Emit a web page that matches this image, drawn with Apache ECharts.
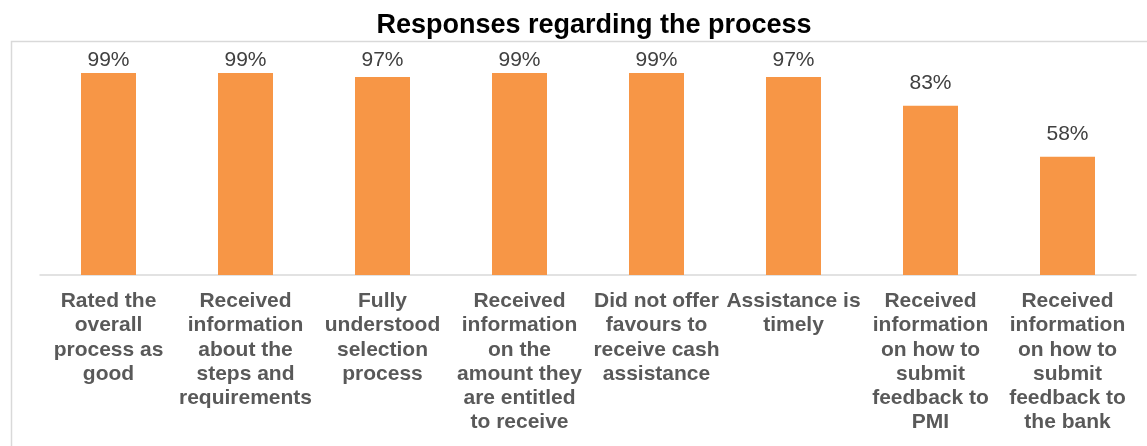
<!DOCTYPE html>
<html>
<head>
<meta charset="utf-8">
<script src="https://cdn.jsdelivr.net/npm/echarts@6/dist/echarts.min.js"></script>
<style>
    html, body { margin: 0; padding: 0; background: #fff; }
    #chart { width: 1147px; height: 446px; }
</style>
</head>
<body>
<div id="chart"></div>
<script>
const titleText = 'Responses regarding the process'
const categories = [
    'Rated the\noverall\nprocess as\ngood',
    'Received\ninformation\nabout the\nsteps and\nrequirements',
    'Fully\nunderstood\nselection\nprocess',
    'Received\ninformation\non the\namount they\nare entitled\nto receive',
    'Did not offer\nfavours to\nreceive cash\nassistance',
    'Assistance is\ntimely',
    'Received\ninformation\non how to\nsubmit\nfeedback to\nPMI',
    'Received\ninformation\non how to\nsubmit\nfeedback to\nthe bank'
]
const values = [99, 99, 97, 99, 99, 97, 83, 58]

const chartObj = echarts.init(document.getElementById('chart'))

// plot area geometry (px)
const gridTop = 71
const gridBottom = 171
const plotHeight = 446 - gridTop - gridBottom
const yMax = 100

// labels near the frame get squeezed down like in the original, the rest float higher
const barData = values.map(v => {
    const barTop = gridTop + plotHeight * (1 - v / yMax)
    return {
        value: v,
        label: {distance: Math.min(11.5, barTop - 60 - 10.5)}
    }
})

const option = {
    backgroundColor: '#fff',
    animation: false,
    graphic: [{
        // chart frame, runs off the right and bottom edge
        type: 'rect',
        shape: {x: 11.5, y: 41.5, width: 1200, height: 500},
        style: {fill: 'none', stroke: '#d9d9d9', lineWidth: 1.5},
        z: -1
    }],
    title: {
        text: titleText,
        left: 589,
        textAlign: 'center',
        top: 7,
        textStyle: {
            fontFamily: 'Arial, "Liberation Sans"',
            fontSize: 27,
            fontWeight: 'bold',
            color: '#000'
        }
    },
    grid: {
        left: 40,
        right: 11,
        top: gridTop,
        bottom: gridBottom,
        containLabel: false
    },
    xAxis: {
        type: 'category',
        data: categories,
        axisTick: {show: false},
        axisLine: {lineStyle: {color: '#d9d9d9', width: 1.5}},
        axisLabel: {
            interval: 0,
            margin: 14,
            fontFamily: 'Arial, "Liberation Sans"',
            fontSize: 21,
            fontWeight: 'bold',
            lineHeight: 24.3,
            color: '#595959',
            align: 'center'
        }
    },
    yAxis: {
        type: 'value',
        min: 0,
        max: yMax,
        show: false
    },
    series: [{
        type: 'bar',
        data: barData,
        barWidth: 55,
        itemStyle: {color: '#f79646'},
        label: {
            show: true,
            position: 'top',
            formatter: '{c}%',
            fontFamily: 'Arial, "Liberation Sans"',
            fontSize: 21,
            color: '#404040'
        }
    }]
}

chartObj.setOption(option)
</script>
</body>
</html>
